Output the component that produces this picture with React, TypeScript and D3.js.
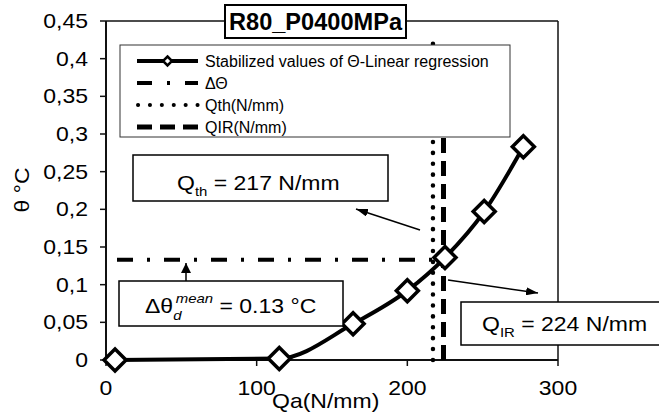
import React from 'react';
import * as d3 from 'd3';

const qaValues = [6, 115, 164, 200, 225, 251, 277];
const thetaValues = [0, 0.002, 0.048, 0.092, 0.136, 0.197, 0.283];
const xTickValues = [0, 100, 200, 300];
const xTickLabels = ['0', '100', '200', '300'];
const yTickValues = [0, 0.05, 0.1, 0.15, 0.2, 0.25, 0.3, 0.35, 0.4, 0.45];
const yTickLabels = ['0', '0,05', '0,1', '0,15', '0,2', '0,25', '0,3', '0,35', '0,4', '0,45'];
const qthValue = 217;
const qirValue = 224;
const deltaThetaValue = 0.133;
const verticalTop = 0.425;
const legendLabels = ['Stabilized values of Θ-Linear regression', 'ΔΘ', 'Qth(N/mm)', 'QIR(N/mm)'];
const chartTitle = 'R80_P0400MPa';
const xAxisTitle = 'Qa(N/mm)';
const yAxisTitle = 'θ °C';

const FONT = '"Liberation Sans", Arial, sans-serif';
const SX = 1.15;
const FS = 20;

const T = ({ x, y, size = FS, anchor = 'start', rotate = 0, sx = SX, weight = 'normal', children }: any) => (
  <text
    transform={`translate(${x},${y})${rotate ? ` rotate(${rotate})` : ''} scale(${sx},1)`}
    fontSize={size}
    textAnchor={anchor}
    fontFamily={FONT}
    fontWeight={weight}
    fill="#000"
  >
    {children}
  </text>
);

const diamond = (r: number) => `M0,${-r}L${r},0L0,${r}L${-r},0Z`;

export default function App() {
  const x = d3.scaleLinear().domain([0, 300]).range([106, 558]);
  const y = d3.scaleLinear().domain([0, 0.45]).range([360, 21]);
  const pts: [number, number][] = qaValues.map((q, i) => [q, thetaValues[i]]);
  const line = d3
    .line<[number, number]>()
    .x((d) => x(d[0]))
    .y((d) => y(d[1]))
    .curve(d3.curveMonotoneX);

  const legendY = [61, 83, 105, 127];
  const lx0 = 137;
  const lx1 = 198;

  return (
    <svg width={659} height={419} style={{ position: 'absolute', left: 0, top: 0, background: '#fff' }}>
      <defs>
        <marker id="ah" viewBox="0 0 12 8" refX="12" refY="4" markerWidth="12" markerHeight="8" markerUnits="userSpaceOnUse" orient="auto">
          <path d="M0,0L12,4L0,8Z" fill="#000" />
        </marker>
        <marker id="ah2" viewBox="0 0 10 10" refX="10" refY="5" markerWidth="10" markerHeight="10" markerUnits="userSpaceOnUse" orient="auto">
          <path d="M0,0L10,5L0,10Z" fill="#000" />
        </marker>
      </defs>
      <rect x={0} y={0} width={659} height={419} fill="#fff" />
      {/* frame */}
      <line x1={x(0)} x2={x(300)} y1={y(0.45)} y2={y(0.45)} stroke="#111" strokeWidth={1.5} />
      <line x1={x(300)} x2={x(300)} y1={y(0.45)} y2={y(0)} stroke="#111" strokeWidth={1.5} />
      <line x1={x(0)} x2={x(0)} y1={y(0.45)} y2={y(0)} stroke="#111" strokeWidth={2} />
      <line x1={x(0)} x2={x(300)} y1={y(0)} y2={y(0)} stroke="#111" strokeWidth={2} />
      {yTickValues.map((t, i) => (
        <g key={'y' + i}>
          <line x1={x(0) - 6} x2={x(0)} y1={y(t)} y2={y(t)} stroke="#111" strokeWidth={1.5} />
          <T x={88} y={y(t) + 7} anchor="end">{yTickLabels[i]}</T>
        </g>
      ))}
      {xTickValues.map((t, i) => (
        <g key={'x' + i}>
          <line x1={x(t)} x2={x(t)} y1={y(0)} y2={y(0) + 6} stroke="#111" strokeWidth={1.5} />
          <T x={x(t)} y={395} anchor="middle">{xTickLabels[i]}</T>
        </g>
      ))}
      <T x={272} y={408}>{xAxisTitle}</T>
      <T x={29} y={190} rotate={-90} anchor="middle">{yAxisTitle}</T>

      {/* reference lines */}
      <line x1={x(0)} x2={x(qirValue)} y1={y(deltaThetaValue)} y2={y(deltaThetaValue)} stroke="#000" strokeWidth={4} strokeDasharray="16 14 3 14" strokeDashoffset={36} />
      <line x1={x(qthValue)} x2={x(qthValue)} y1={y(0)} y2={y(verticalTop)} stroke="#000" strokeWidth={4.5} strokeDasharray="0.1 10.8" strokeLinecap="round" />
      <line x1={x(qirValue)} x2={x(qirValue)} y1={y(0)} y2={y(verticalTop)} stroke="#000" strokeWidth={5} strokeDasharray="15 8" />

      {/* data */}
      <path d={line(pts) || ''} fill="none" stroke="#000" strokeWidth={4} />
      {pts.map((p, i) => (
        <path key={'m' + i} d={diamond(11)} transform={`translate(${x(p[0])},${y(p[1])})`} fill="#fff" stroke="#000" strokeWidth={3.5} />
      ))}

      {/* arrows */}
      <line x1={420} y1={230} x2={356} y2={209} stroke="#000" strokeWidth={1.5} markerEnd="url(#ah)" />
      <line x1={448} y1={280} x2={538} y2={293} stroke="#000" strokeWidth={1.5} markerEnd="url(#ah)" />
      <line x1={186} y1={281} x2={186} y2={263} stroke="#000" strokeWidth={1.5} markerEnd="url(#ah2)" />

      {/* annotation boxes */}
      <rect x={133} y={155} width={255} height={46} fill="#fff" stroke="#000" strokeWidth={1.5} />
      <T x={177} y={190}>
        Q<tspan fontSize={13} dy={6}>th</tspan>
        <tspan dy={-6}> = 217 N/mm</tspan>
      </T>
      <rect x={119} y={281} width={224} height={45} fill="#fff" stroke="#000" strokeWidth={1.5} />
      <T x={145} y={313}>
        Δθ<tspan fontSize={13} fontStyle="italic" dy={7}>d</tspan>
        <tspan fontSize={13} fontStyle="italic" dx={-5} dy={-17}>mean</tspan>
        <tspan dy={10}> = 0.13 °C</tspan>
      </T>
      <rect x={461} y={302} width={210} height={43} fill="#fff" stroke="#000" strokeWidth={1.5} />
      <T x={482} y={331}>
        Q<tspan fontSize={13} dy={6}>IR</tspan>
        <tspan dy={-6}> = 224 N/mm</tspan>
      </T>

      {/* legend */}
      <rect x={120} y={45} width={390} height={92} fill="#fff" stroke="#333" strokeWidth={1} />
      <line x1={lx0} x2={lx1} y1={legendY[0]} y2={legendY[0]} stroke="#000" strokeWidth={4} />
      <path d={diamond(4.5)} transform={`translate(${(lx0 + lx1) / 2},${legendY[0]})`} fill="#fff" stroke="#000" strokeWidth={2.5} />
      <line x1={lx0} x2={lx1} y1={legendY[1]} y2={legendY[1]} stroke="#000" strokeWidth={4} strokeDasharray="15 15 3 15" />
      <line x1={lx0 + 1} x2={lx1} y1={legendY[2]} y2={legendY[2]} stroke="#000" strokeWidth={4} strokeDasharray="0.1 11.8" strokeLinecap="round" />
      <line x1={lx0} x2={lx1} y1={legendY[3]} y2={legendY[3]} stroke="#000" strokeWidth={5} strokeDasharray="15 8" />
      {legendLabels.map((l, i) => (
        <T key={'l' + i} x={205} y={legendY[i] + 5.5} size={16} sx={1}>{l}</T>
      ))}

      {/* title */}
      <rect x={225} y={5} width={181} height={33} fill="#fff" stroke="#000" strokeWidth={2} />
      <text x={315.5} y={30} fontSize={24} fontWeight="bold" textAnchor="middle" fontFamily={FONT} textLength={173} lengthAdjust="spacingAndGlyphs">{chartTitle}</text>
    </svg>
  );
}
